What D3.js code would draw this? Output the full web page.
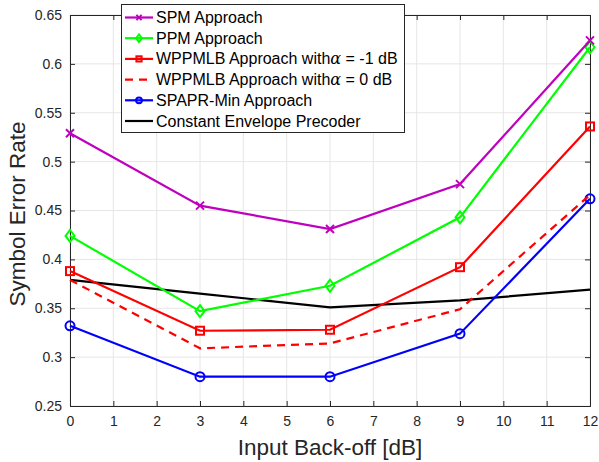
<!DOCTYPE html>
<html>
<head>
<meta charset="utf-8">
<script src="https://cdn.jsdelivr.net/npm/d3@7"></script>
<style>
body { margin: 0; background: #fff; }
text { font-family: "Liberation Sans", Arial, sans-serif; }
</style>
</head>
<body>
<div class="container"></div>
<script>
let width = 599
let height = 462

// input back-off values (dB)
let backoff = [0, 3, 6, 9, 12]
let xTicks = [0, 1, 2, 3, 4, 5, 6, 7, 8, 9, 10, 11, 12]
let yTicks = [0.25, 0.3, 0.35, 0.4, 0.45, 0.5, 0.55, 0.6, 0.65]

let spm = [0.529, 0.455, 0.431, 0.477, 0.624]
let ppm = [0.424, 0.347, 0.373, 0.443, 0.617]
let wppmlbMinus1 = [0.388, 0.327, 0.328, 0.392, 0.536]
let wppmlbZero = [0.379, 0.309, 0.314, 0.349, 0.466]
let spaprMin = [0.332, 0.280, 0.280, 0.324, 0.462]
let constEnv = [0.379, 0.365, 0.351, 0.358, 0.369]

let series = [
  {name: "SPM Approach", values: spm, color: "#bf00bf", marker: "cross", dash: null},
  {name: "PPM Approach", values: ppm, color: "#00ff00", marker: "diamond", dash: null},
  {name: "WPPMLB Approach with|α| = -1 dB", values: wppmlbMinus1, color: "#ff0000", marker: "square", dash: null},
  {name: "WPPMLB Approach with|α| = 0 dB", values: wppmlbZero, color: "#ff0000", marker: null, dash: "8,6"},
  {name: "SPAPR-Min Approach", values: spaprMin, color: "#0000ff", marker: "circle", dash: null},
  {name: "Constant Envelope Precoder", values: constEnv, color: "#000000", marker: null, dash: null}
]

let margin = {left: 70, right: 9, top: 15, bottom: 56}

let x = d3.scaleLinear().domain([0, 12]).range([margin.left, width - margin.right])
let y = d3.scaleLinear().domain([0.25, 0.65]).range([height - margin.bottom, margin.top])

let svg = d3.select(".container")
.append("svg")
.attr("width", width)
.attr("height", height)

// grid
svg.append("g")
  .selectAll("line")
  .data(xTicks)
  .enter()
  .append("line")
  .attr("x1", d => x(d)).attr("x2", d => x(d))
  .attr("y1", y(0.25)).attr("y2", y(0.65))
  .attr("stroke", "#e6e6e6")
svg.append("g")
  .selectAll("line")
  .data(yTicks)
  .enter()
  .append("line")
  .attr("y1", d => y(d)).attr("y2", d => y(d))
  .attr("x1", x(0)).attr("x2", x(12))
  .attr("stroke", "#e6e6e6")

// axes
let axisColor = "#262626"
let xAxis = svg.append("g")
  .attr("transform", `translate(0,${y(0.25)})`)
  .call(d3.axisBottom(x).tickValues(xTicks).tickSize(-5).tickPadding(10).tickFormat(d3.format("d")))
let xTop = svg.append("g")
  .attr("transform", `translate(0,${y(0.65)})`)
  .call(d3.axisTop(x).tickValues(xTicks).tickSize(-5).tickFormat(""))
let yAxis = svg.append("g")
  .attr("transform", `translate(${x(0)},0)`)
  .call(d3.axisLeft(y).tickValues(yTicks).tickSize(-5).tickPadding(8).tickFormat(d => d3.format("")(+d.toFixed(2))))
let yRight = svg.append("g")
  .attr("transform", `translate(${x(12)},0)`)
  .call(d3.axisRight(y).tickValues(yTicks).tickSize(-5).tickFormat(""))

;[xAxis, xTop, yAxis, yRight].forEach(function(g) {
  g.selectAll("path").attr("stroke", axisColor).attr("stroke-width", 1)
  g.selectAll("line").attr("stroke", axisColor)
  g.selectAll("text").attr("fill", axisColor).attr("font-size", "14px")
})

// axis labels
svg.append("text")
  .attr("x", (x(0) + x(12)) / 2)
  .attr("y", 455)
  .attr("text-anchor", "middle")
  .attr("font-size", "22.5px")
  .attr("fill", axisColor)
  .text("Input Back-off [dB]")
svg.append("text")
  .attr("transform", `translate(25,214) rotate(-90)`)
  .attr("text-anchor", "middle")
  .attr("font-size", "22.5px")
  .attr("fill", axisColor)
  .text("Symbol Error Rate")

let line = d3.line()
  .x((d, i) => x(backoff[i]))
  .y(d => y(d))

function drawMarker(g, type, color, cx, cy, k) {
  k = k || 1
  if (type === "cross") {
    g.append("path")
      .attr("d", `M${cx-4*k},${cy-4*k}L${cx+4*k},${cy+4*k}M${cx-4*k},${cy+4*k}L${cx+4*k},${cy-4*k}`)
      .attr("stroke", color).attr("stroke-width", 2).attr("fill", "none")
  } else if (type === "diamond") {
    g.append("path")
      .attr("d", `M${cx},${cy-6*k}L${cx+4.5*k},${cy}L${cx},${cy+6*k}L${cx-4.5*k},${cy}Z`)
      .attr("stroke", color).attr("stroke-width", 2).attr("fill", "none")
  } else if (type === "square") {
    g.append("rect")
      .attr("x", cx - 4*k).attr("y", cy - 4*k).attr("width", 8*k).attr("height", 8*k)
      .attr("stroke", color).attr("stroke-width", 2).attr("fill", "none")
  } else if (type === "circle") {
    g.append("circle")
      .attr("cx", cx).attr("cy", cy).attr("r", 4.5*k)
      .attr("stroke", color).attr("stroke-width", 2).attr("fill", "none")
  }
}

let plot = svg.append("g")
series.slice().reverse().forEach(function(s) {
  let g = plot.append("g")
  g.append("path")
    .datum(s.values)
    .attr("d", line)
    .attr("fill", "none")
    .attr("stroke", s.color)
    .attr("stroke-width", 2.2)
    .attr("stroke-dasharray", s.dash)
  if (s.marker) {
    s.values.forEach(function(v, i) {
      drawMarker(g, s.marker, s.color, x(backoff[i]), y(v))
    })
  }
})

// legend
let legend = svg.append("g")
legend.append("rect")
  .attr("x", 121.5).attr("y", 4.5)
  .attr("width", 283).attr("height", 128)
  .attr("fill", "#fff")
  .attr("stroke", axisColor)
series.forEach(function(s, i) {
  let ly = 17.5 + i * 20.7
  legend.append("line")
    .attr("x1", 125).attr("x2", 153)
    .attr("y1", ly).attr("y2", ly)
    .attr("stroke", s.color)
    .attr("stroke-width", 2.2)
    .attr("stroke-dasharray", s.dash)
  if (s.marker) drawMarker(legend, s.marker, s.color, 139, ly, 0.65)
  let t = legend.append("text")
    .attr("x", 156).attr("y", ly + 5.5)
    .attr("font-size", "16px")
    .attr("fill", "#000")
  let parts = s.name.split("|")
  t.append("tspan").text(parts[0])
  if (parts.length > 1) {
    t.append("tspan").attr("font-family", "'DejaVu Serif', serif").attr("font-style", "italic").text(parts[1])
    t.append("tspan").text(parts[2])
  }
})
</script>
</body>
</html>
